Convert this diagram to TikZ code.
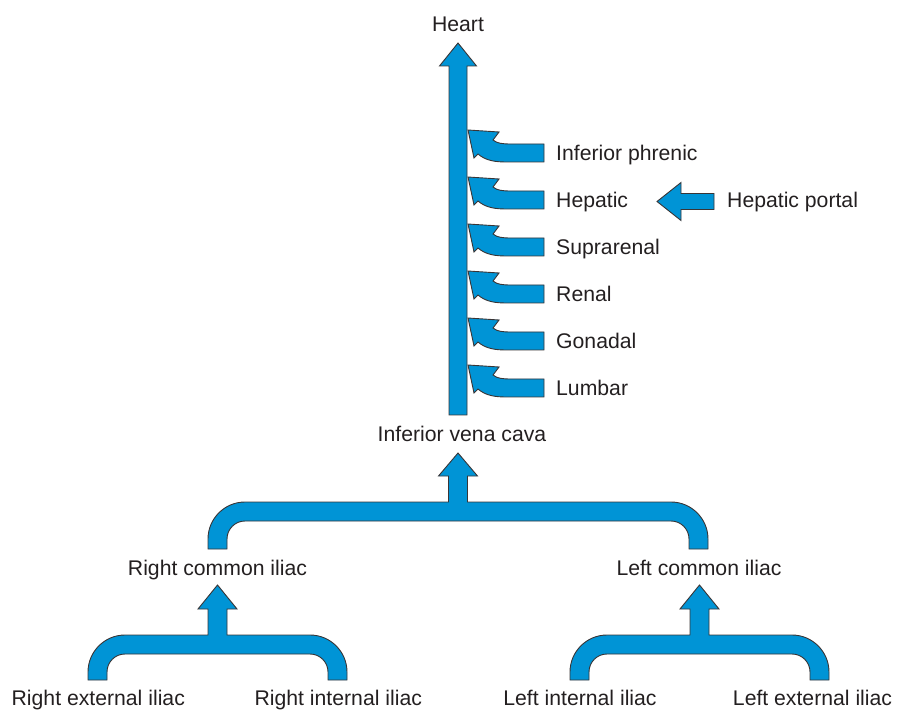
\documentclass[tikz,border=0pt]{standalone}
\usepackage{fontspec}
\setmainfont{Liberation Sans}
\definecolor{vblue}{RGB}{0,148,214}
\definecolor{ink}{RGB}{35,31,32}
\tikzset{
 vessel/.style={fill=vblue, draw=ink!90, line width=0.9pt, line join=miter},
 lbl/.style={inner sep=0pt, text=ink, font=\fontsize{21.2}{25}\selectfont},
}
\newcommand{\branchshape}[1]{%
 \draw[vessel, shift={(0,#1)}] (468,-23) -- (499,-21) -- (493,-13) .. controls (497,-9.5) and (503,-9) .. (511,-9) -- (544,-9) -- (544,9) -- (507,9) .. controls (496,9) and (486,8) .. (478,1) -- (474,5) -- cycle;}
\newcommand{\forkshape}[6]{%
 \draw[vessel] ({#1-#2},#4) -- ({#1-#2},{#3+37}) .. controls ({#1-#2},{#3+16.6}) and ({#1-#2+16.6},#3) .. ({#1-#2+37},#3) -- ({#1-9.5},#3) -- ({#1-9.5},#6) -- ({#1-19.5},#6) -- (#1,#5) -- ({#1+19.5},#6) -- ({#1+9.5},#6) -- ({#1+9.5},#3) -- ({#1+#2-37},#3) .. controls ({#1+#2-16.6},#3) and ({#1+#2},{#3+16.6}) .. ({#1+#2},{#3+37}) -- ({#1+#2},#4) -- ({#1+#2-19},#4) -- ({#1+#2-19},{#3+37}) .. controls ({#1+#2-19},{#3+27.06}) and ({#1+#2-27.06},{#3+19}) .. ({#1+#2-37},{#3+19}) -- ({#1-#2+37},{#3+19}) .. controls ({#1-#2+27.06},{#3+19}) and ({#1-#2+19},{#3+27.06}) .. ({#1-#2+19},{#3+37}) -- ({#1-#2+19},#4) -- cycle;}
\begin{document}
\begin{tikzpicture}[x=1pt,y=-1pt]
\useasboundingbox (0,0) rectangle (903,711);
% main trunk
\draw[vessel] (449,415) -- (449,66) -- (439.5,66) -- (458,43) -- (476.5,66) -- (467,66) -- (467,415) -- cycle;
% tributaries
\branchshape{153}
\branchshape{200}
\branchshape{247}
\branchshape{294}
\branchshape{341}
\branchshape{388}
% hepatic portal
\draw[vessel] (714,193.5) -- (681,193.5) -- (681,182.5) -- (657,201.5) -- (681,220.5) -- (681,209.5) -- (714,209.5) -- cycle;
% forks
\forkshape{458}{250}{502}{549}{453}{476}
\forkshape{217.5}{129.5}{635}{680}{585}{609}
\forkshape{699.5}{129.5}{635}{680}{585}{609}
% labels
\node[lbl, anchor=base] (heart) at (458,32) {Heart};
\node[lbl, anchor=base west] (phrenic) at (556,161) {Inferior phrenic};
\node[lbl, anchor=base west] (hepatic) at (556,208) {Hepatic};
\node[lbl, anchor=base west] (portal) at (727,208) {Hepatic portal};
\node[lbl, anchor=base west] (suprarenal) at (556,255) {Suprarenal};
\node[lbl, anchor=base west] (renal) at (556,302) {Renal};
\node[lbl, anchor=base west] (gonadal) at (556,349) {Gonadal};
\node[lbl, anchor=base west] (lumbar) at (556,396) {Lumbar};
\node[lbl, anchor=base] (ivc) at (462,442) {Inferior vena cava};
\node[lbl, anchor=base] (rci) at (217.5,575.5) {Right common iliac};
\node[lbl, anchor=base] (lci) at (699,575.5) {Left common iliac};
\node[lbl, anchor=base] (rei) at (98.3,705.5) {Right external iliac};
\node[lbl, anchor=base] (rii) at (338.3,705.5) {Right internal iliac};
\node[lbl, anchor=base] (lii) at (580,705.5) {Left internal iliac};
\node[lbl, anchor=base] (lei) at (812.5,705.5) {Left external iliac};
\end{tikzpicture}
\end{document}
